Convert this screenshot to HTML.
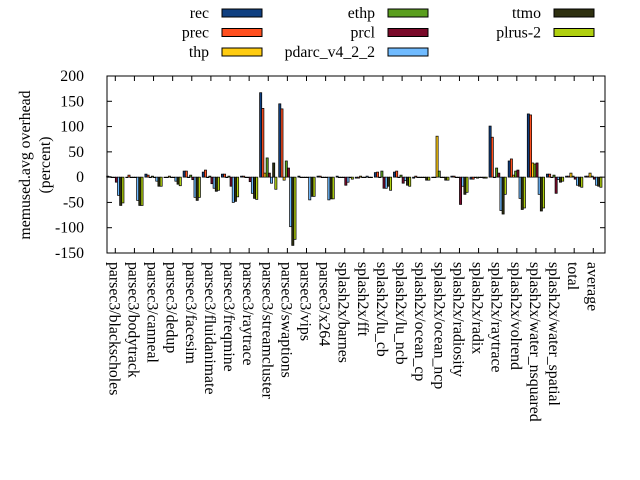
<!DOCTYPE html>
<html><head><meta charset="utf-8"><style>
html,body{margin:0;padding:0;background:#fff;}
svg{display:block;font-family:"Liberation Serif",serif;font-size:15.8px;}
</style></head><body>
<svg id="s" width="640" height="480" xmlns="http://www.w3.org/2000/svg">
<rect x="0" y="0" width="640" height="480" fill="#fff"/>
<g id="bars"></g>
<rect x="107" y="76" width="498" height="177" fill="none" stroke="#000" stroke-width="1"/>
<g id="ticks" stroke="#000" stroke-width="1"></g>
<g id="labels"></g>
<text transform="translate(30,165) rotate(-90)" text-anchor="middle">memused.avg overhead</text>
<text transform="translate(50,165) rotate(-90)" text-anchor="middle">(percent)</text>
<g id="legend"></g>
</svg>
<script>
var NS="http://www.w3.org/2000/svg";
function el(p,t,a,txt){var e=document.createElementNS(NS,t);for(var k in a)e.setAttribute(k,a[k]);if(txt!==undefined)e.textContent=txt;p.appendChild(e);return e;}
var cols=["#0f3f80","#ff4f1f","#ffcc11","#5a9e1e","#7a0a2a","#70bbff","#2e3010","#b0d010"];
var names=["rec","prec","thp","ethp","prcl","pdarc_v4_2_2","ttmo","plrus-2"];
var groups=["parsec3/blackscholes","parsec3/bodytrack","parsec3/canneal","parsec3/dedup","parsec3/facesim","parsec3/fluidanimate","parsec3/freqmine","parsec3/raytrace","parsec3/streamcluster","parsec3/swaptions","parsec3/vips","parsec3/x264","splash2x/barnes","splash2x/fft","splash2x/lu_cb","splash2x/lu_ncb","splash2x/ocean_cp","splash2x/ocean_ncp","splash2x/radiosity","splash2x/radix","splash2x/raytrace","splash2x/volrend","splash2x/water_nsquared","splash2x/water_spatial","total","average"];
var data=[
[2,1,0,0,-10,-36,-56,-51],
[0,4,0,0,0,-46,-56,-56],
[6,4,0,2,0,-8,-18,-18],
[0,0,2,0,0,-8,-14,-17],
[12,12,0,4,-5,-40,-46,-40],
[10,14,0,2,-13,-22,-28,-26],
[6,6,0,2,-18,-50,-48,-39],
[2,2,0,0,-9,-32,-42,-44],
[167,136,8,38,8,-12,28,-24],
[145,135,-6,32,18,-98,-135,-123],
[2,0,0,-1,0,-45,-38,-38],
[2,2,0,0,0,-45,-43,-43],
[2,0,0,0,-16,-10,0,-4],
[-2,-2,2,0,0,2,0,0],
[9,10,0,12,-22,-22,-18,-26],
[10,12,0,4,-12,-7,-16,-18],
[-2,2,0,0,0,0,-6,-6],
[0,0,81,12,0,0,-6,-6],
[2,2,0,0,-54,-18,-34,-30],
[-4,-4,0,-2,0,0,-2,-2],
[101,79,0,18,8,-66,-73,-34],
[32,36,4,12,14,-42,-64,-61],
[125,123,28,26,28,-34,-67,-61],
[6,6,0,4,-32,-5,-10,-8],
[2,2,8,2,-4,-16,-18,-20],
[2,2,8,2,-4,-16,-18,-20]];
function Y(v){return 76+(200-v)*0.5057;}
var bars=document.getElementById("bars"),tk=document.getElementById("ticks"),lb=document.getElementById("labels"),lg=document.getElementById("legend");
var bw=2.17;
for(var g=0;g<26;g++){
  var c=115.3+19.12*g, x0=c-8*bw/2;
  for(var i=0;i<8;i++){
    var v=data[g][i];var y1=Y(Math.max(v,0)),y2=Y(Math.min(v,0));
    el(bars,"rect",{x:x0+i*bw,y:y1,width:bw,height:Math.max(y2-y1,0.5),fill:cols[i],stroke:"#000","stroke-width":"0.7"});
  }
  el(tk,"line",{x1:c,y1:253,x2:c,y2:248});
  el(tk,"line",{x1:c,y1:76,x2:c,y2:81});
  el(lb,"text",{transform:"translate("+(c-6)+",262) rotate(90)"},groups[g]);
}
for(var v=-150;v<=200;v+=50){
  var y=Y(v);
  el(tk,"line",{x1:107,y1:y,x2:112,y2:y});
  el(tk,"line",{x1:605,y1:y,x2:600,y2:y});
  el(lb,"text",{x:84,y:y+5,"text-anchor":"end"},String(v));
}
var lx=[209,375,541];
for(var i=0;i<8;i++){
  var col=Math.floor(i/3),row=i%3;
  var y=13+row*19.5;
  el(lg,"text",{x:lx[col],y:y+5,"text-anchor":"end"},names[i]);
  el(lg,"rect",{x:lx[col]+13,y:y-4,width:40,height:8,fill:cols[i],stroke:"#000","stroke-width":"1"});
}
</script>
</body></html>
